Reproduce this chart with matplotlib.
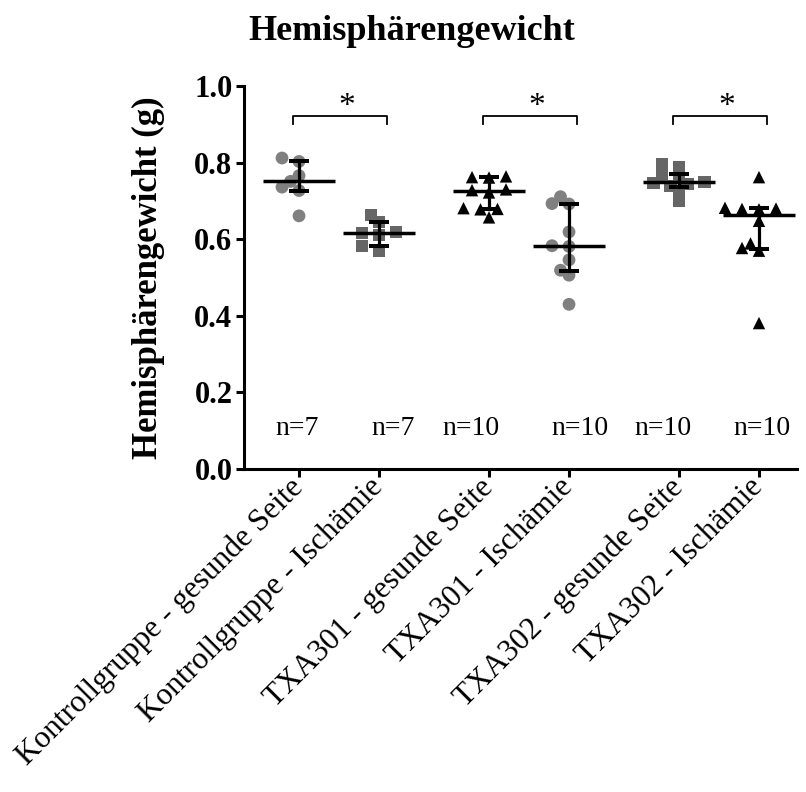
import numpy as np
import matplotlib
matplotlib.use("Agg")
import matplotlib.pyplot as plt

# ---------------- data ----------------
categories = [
    "Kontrollgruppe - gesunde Seite",
    "Kontrollgruppe - Ischämie",
    "TXA301 - gesunde Seite",
    "TXA301 - Ischämie",
    "TXA302 - gesunde Seite",
    "TXA302 - Ischämie",
]
kontroll_gesund = [0.661, 0.727, 0.736, 0.751, 0.766, 0.803, 0.812]
kontroll_isch = [0.570, 0.581, 0.610, 0.616, 0.620, 0.646, 0.663]
txa301_gesund = [0.657, 0.678, 0.679, 0.681, 0.722, 0.728, 0.730, 0.761, 0.762, 0.764]
txa301_isch = [0.430, 0.506, 0.519, 0.546, 0.581, 0.583, 0.619, 0.692, 0.693, 0.711]
txa302_gesund = [0.699, 0.727, 0.740, 0.745, 0.748, 0.750, 0.760, 0.764, 0.788, 0.797]
txa302_isch = [0.381, 0.570, 0.577, 0.589, 0.648, 0.678, 0.679, 0.680, 0.682, 0.762]
series = [kontroll_gesund, kontroll_isch, txa301_gesund, txa301_isch, txa302_gesund, txa302_isch]
n_labels = ["n=7", "n=7", "n=10", "n=10", "n=10", "n=10"]
sig_pairs = [(0, 1), (2, 3), (4, 5)]
sig_text = "*"
y_ticks = [0.0, 0.2, 0.4, 0.6, 0.8, 1.0]

# ---------------- style ----------------
serif = ["Liberation Serif", "DejaVu Serif"]
plt.rcParams["font.family"] = serif
markers = ["o", "s", "^", "o", "s", "^"]
colors = ["#808080", "#666666", "#000000", "#808080", "#666666", "#000000"]
sizes = [85, 75, 80, 85, 75, 80]

W, H = 806, 792
fig = plt.figure(figsize=(W / 100, H / 100), dpi=100)
ax = fig.add_axes([243.5 / W, 1 - 469 / H, (797 - 243.5) / W, (469 - 86) / H])

pos = np.array([i + (i // 2) * 0.375 for i in range(len(categories))])
ax.set_xlim(-0.694, 6.225)
ax.set_ylim(0, 1.0)


def swarm_offsets(x0, values, step_px=8.5, dmin_px=9.5):
    trans = ax.transData
    vals = np.asarray(values)
    ys = trans.transform(np.column_stack([np.full(len(vals), x0), vals]))[:, 1]
    px_per_x = trans.transform((1, 0))[0] - trans.transform((0, 0))[0]
    placed = []
    offs = np.zeros(len(vals))
    for idx in np.argsort(vals, kind="stable"):
        y = ys[idx]
        for k in [0, -1, 1, -2, 2, -3, 3, -4, 4]:
            dx = k * step_px
            if all(np.hypot(dx - px, y - py) >= dmin_px for px, py in placed):
                break
        placed.append((dx, y))
        offs[idx] = dx / px_per_x
    return offs


for i, vals in enumerate(series):
    vals = np.asarray(vals)
    offs = swarm_offsets(pos[i], vals)
    ax.scatter(pos[i] + offs, vals, marker=markers[i], s=sizes[i], color=colors[i],
               edgecolors="none", zorder=2, clip_on=False)
    med = np.median(vals)
    q1, q3 = np.percentile(vals, [25, 75], method="weibull")
    ax.plot([pos[i] - 0.455, pos[i] + 0.455], [med, med], color="black", lw=2.5,
            solid_capstyle="butt", zorder=3)
    ax.plot([pos[i], pos[i]], [q1, q3], color="black", lw=2.3, zorder=3)
    for q in (q1, q3):
        ax.plot([pos[i] - 0.125, pos[i] + 0.125], [q, q], color="black", lw=2.9,
                solid_capstyle="butt", zorder=3)

# n labels
n_off = [-0.025, 0.175, -0.225, 0.135, -0.2, 0.04]
for i, lab in enumerate(n_labels):
    ax.text(pos[i] + n_off[i], 0.105, lab, ha="center", va="center", fontsize=20,
            family=serif)

# significance brackets
for a, b in sig_pairs:
    x1, x2 = pos[a] - 0.08, pos[b] + 0.1
    ax.plot([x1, x1, x2, x2], [0.90, 0.922, 0.922, 0.90], color="black", lw=1.3,
            clip_on=False)
    ax.text(pos[a] + 0.6, 0.925, sig_text, ha="center", va="baseline", fontsize=24,
            family=serif, clip_on=False)

# axes styling
for s in ("top", "right"):
    ax.spines[s].set_visible(False)
for s in ("left", "bottom"):
    ax.spines[s].set_linewidth(2.2)
ax.set_yticks(y_ticks)
ax.set_yticklabels([f"{t:.1f}" for t in y_ticks], fontsize=22, fontweight="bold")
ax.tick_params(axis="y", length=6, width=2.2, pad=2)
ax.set_xticks(pos)
ax.set_xticklabels(categories, rotation=45, ha="right", va="center",
                   rotation_mode="anchor", fontsize=22.5)
ax.tick_params(axis="x", length=6, width=2.2, pad=4)

ax.set_ylabel("Hemisphärengewicht (g)", fontsize=25, fontweight="bold")
ax.yaxis.set_label_coords(-0.141, 0.5)

fig.text(411.5 / W, 1 - 31 / H, "Hemisphärengewicht", ha="center", va="center",
         fontsize=26, fontweight="bold")

fig.savefig("out.png", dpi=100)
